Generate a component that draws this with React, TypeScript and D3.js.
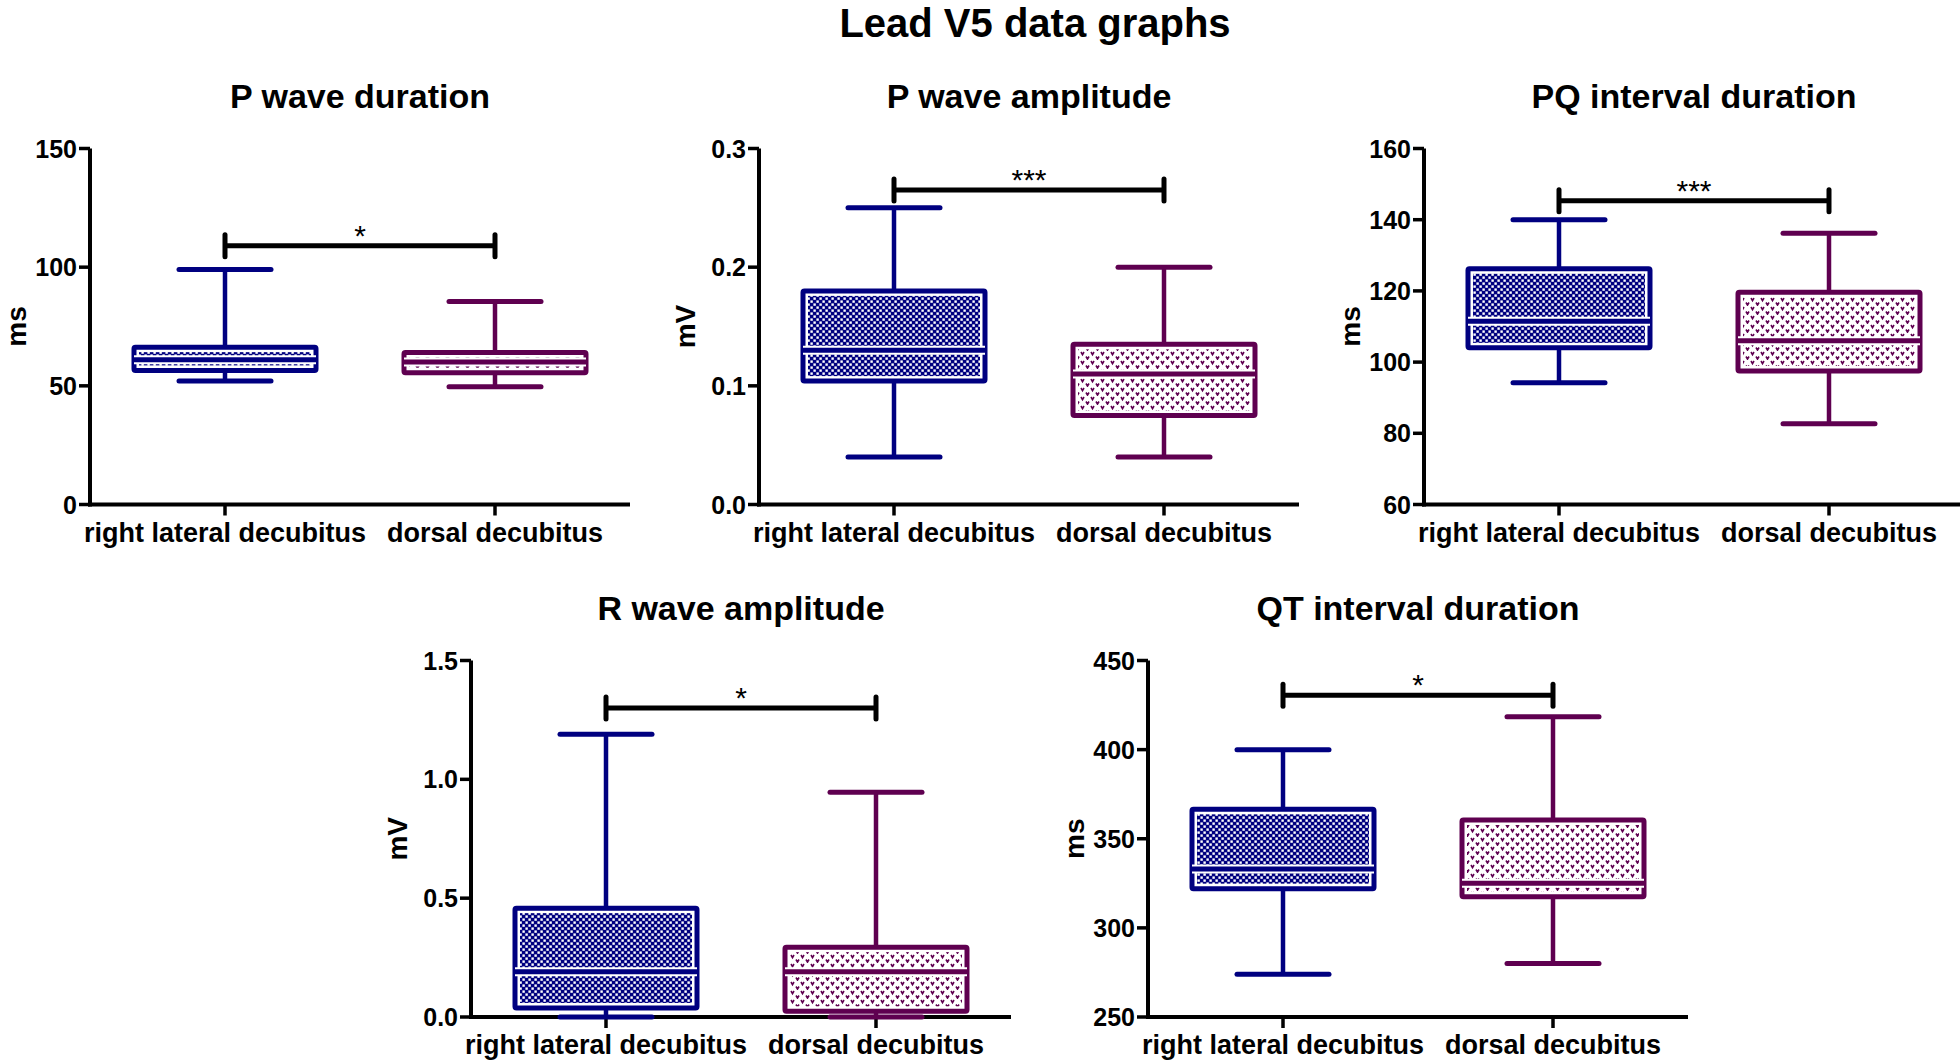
import React from 'react'
import * as d3 from 'd3'

const GROUPS = ['right lateral decubitus', 'dorsal decubitus']
const TITLES = ['P wave duration', 'P wave amplitude', 'PQ interval duration', 'R wave amplitude', 'QT interval duration']
const UNITS = ['ms', 'mV', 'ms', 'mV', 'ms']
const Y_DOMAINS = [[0, 150], [0, 0.3], [60, 160], [0, 1.5], [250, 450]]
const Y_TICKS = [
  [0, 50, 100, 150],
  [0, 0.1, 0.2, 0.3],
  [60, 80, 100, 120, 140, 160],
  [0, 0.5, 1.0, 1.5],
  [250, 300, 350, 400, 450],
]
const TICK_FMT = ['d', '.1f', 'd', '.1f', 'd']

// [min, q1, median, q3, max]
const RIGHT_LATERAL = [
  [52, 56.5, 61, 66.3, 99],
  [0.04, 0.104, 0.13, 0.18, 0.25],
  [94.2, 104, 111.5, 126.2, 140],
  [0, 0.038, 0.19, 0.458, 1.19],
  [274, 322, 333, 366.5, 400],
]
const DORSAL = [
  [49.6, 55.5, 60, 64, 85.5],
  [0.04, 0.075, 0.11, 0.135, 0.2],
  [82.7, 97.5, 106, 119.6, 136.2],
  [0, 0.024, 0.19, 0.294, 0.946],
  [280, 317.5, 325, 360.5, 418.5],
]
const SIG_LABELS = ['*', '***', '***', '*', '*']
const SIG_LEVELS = [109, 0.265, 145.3, 1.3, 430.5]

const BLUE = '#000080'
const PURPLE = '#5f0050'
const FONT = "'Liberation Sans', Arial, Helvetica, sans-serif"

// where each panel's plot area sits
const FRAMES = [
  { x: 90, top: 148.5, bottom: 504.5 },
  { x: 759, top: 148.5, bottom: 504.5 },
  { x: 1424, top: 148.5, bottom: 504.5 },
  { x: 471, top: 660.5, bottom: 1017 },
  { x: 1148, top: 660.5, bottom: 1017 },
]
const PLOT_W = 540
const BOX_W = 182
const CAP_W = 92

function BoxPlot({ cx, stats, y, color, pattern }) {
  const [mn, q1, med, q3, mx] = stats
  const yTop = y(q3)
  const yBot = y(q1)
  const inset = 5
  return (
    <g>
      <line x1={cx} x2={cx} y1={y(mx)} y2={yTop} stroke={color} strokeWidth={4.5} />
      <line x1={cx} x2={cx} y1={yBot} y2={y(mn)} stroke={color} strokeWidth={4.5} />
      <line x1={cx - CAP_W / 2} x2={cx + CAP_W / 2} y1={y(mx)} y2={y(mx)} stroke={color} strokeWidth={5} strokeLinecap="round" />
      <line x1={cx - CAP_W / 2} x2={cx + CAP_W / 2} y1={y(mn)} y2={y(mn)} stroke={color} strokeWidth={5} strokeLinecap="round" />
      <rect x={cx - BOX_W / 2} y={yTop} width={BOX_W} height={yBot - yTop} rx={1.5} fill="#fff" stroke={color} strokeWidth={5} />
      <rect
        x={cx - BOX_W / 2 + inset}
        y={yTop + inset}
        width={BOX_W - 2 * inset}
        height={Math.max(0, yBot - yTop - 2 * inset)}
        fill={`url(#${pattern})`}
      />
      <line x1={cx - BOX_W / 2} x2={cx + BOX_W / 2} y1={y(med)} y2={y(med)} stroke="#fff" strokeWidth={9} />
      <line x1={cx - BOX_W / 2} x2={cx + BOX_W / 2} y1={y(med)} y2={y(med)} stroke={color} strokeWidth={5} />
    </g>
  )
}

function Panel({ i }) {
  const f = FRAMES[i]
  const x = d3.scaleBand().domain(GROUPS).range([f.x, f.x + PLOT_W])
  const y = d3.scaleLinear().domain(Y_DOMAINS[i]).range([f.bottom, f.top])
  const fmt = d3.format(TICK_FMT[i])
  const c0 = x(GROUPS[0]) + x.bandwidth() / 2
  const c1 = x(GROUPS[1]) + x.bandwidth() / 2
  const sy = y(SIG_LEVELS[i])

  return (
    <g fontFamily={FONT}>
      <text x={f.x + PLOT_W / 2} y={f.top - 41} textAnchor="middle" fontSize={34} fontWeight="bold">
        {TITLES[i]}
      </text>
      <text
        transform={`translate(${f.x - 64},${(f.top + f.bottom) / 2}) rotate(-90)`}
        textAnchor="middle"
        fontSize={28}
        fontWeight="bold"
      >
        {UNITS[i]}
      </text>

      {/* y axis */}
      <line x1={f.x} x2={f.x} y1={f.top} y2={f.bottom + 2} stroke="#000" strokeWidth={4} />
      {Y_TICKS[i].map(t => (
        <g key={t}>
          <line x1={f.x - 11} x2={f.x} y1={y(t)} y2={y(t)} stroke="#000" strokeWidth={3.5} />
          <text x={f.x - 13} y={y(t)} dy="0.36em" textAnchor="end" fontSize={25} fontWeight="bold">
            {fmt(t)}
          </text>
        </g>
      ))}

      {/* x axis */}
      <line x1={f.x - 2} x2={f.x + PLOT_W} y1={f.bottom} y2={f.bottom} stroke="#000" strokeWidth={4} />
      {GROUPS.map(g => {
        const cx = x(g) + x.bandwidth() / 2
        return (
          <g key={g}>
            <line x1={cx} x2={cx} y1={f.bottom} y2={f.bottom + 11} stroke="#000" strokeWidth={3.5} />
            <text x={cx} y={f.bottom + 37} textAnchor="middle" fontSize={27} fontWeight="bold">
              {g}
            </text>
          </g>
        )
      })}

      <BoxPlot cx={c0} stats={RIGHT_LATERAL[i]} y={y} color={BLUE} pattern="checker" />
      <BoxPlot cx={c1} stats={DORSAL[i]} y={y} color={PURPLE} pattern="hearts" />

      {/* significance bracket */}
      <line x1={c0} x2={c1} y1={sy} y2={sy} stroke="#000" strokeWidth={5} />
      <line x1={c0} x2={c0} y1={sy - 11} y2={sy + 11} stroke="#000" strokeWidth={5} strokeLinecap="round" />
      <line x1={c1} x2={c1} y1={sy - 11} y2={sy + 11} stroke="#000" strokeWidth={5} strokeLinecap="round" />
      <text x={(c0 + c1) / 2} y={sy} textAnchor="middle" fontSize={30}>
        {SIG_LABELS[i]}
      </text>
    </g>
  )
}

export default function App() {
  return (
    <svg
      width={1960}
      height={1060}
      style={{ position: 'absolute', left: 0, top: 0, background: '#fff' }}
    >
      <defs>
        <pattern id="checker" width={6} height={6} patternUnits="userSpaceOnUse">
          <rect width={6} height={6} fill={BLUE} />
          <rect x={0.4} y={0.4} width={2.4} height={2.4} fill="#fff" />
          <rect x={3.4} y={3.4} width={2.4} height={2.4} fill="#fff" />
        </pattern>
        <pattern id="hearts" width={10} height={9} patternUnits="userSpaceOnUse">
          <rect width={10} height={9} fill="#fff" />
          <path d="M1,1 L2.5,3.6 L4,1" fill="none" stroke={PURPLE} strokeWidth={1.6} />
          <path d="M6,5.5 L7.5,8.1 L9,5.5" fill="none" stroke={PURPLE} strokeWidth={1.6} />
        </pattern>
      </defs>
      <text x={1035} y={37} textAnchor="middle" fontFamily={FONT} fontSize={40} fontWeight="bold">
        Lead V5 data graphs
      </text>
      {TITLES.map((t, i) => (
        <Panel key={t} i={i} />
      ))}
    </svg>
  )
}
